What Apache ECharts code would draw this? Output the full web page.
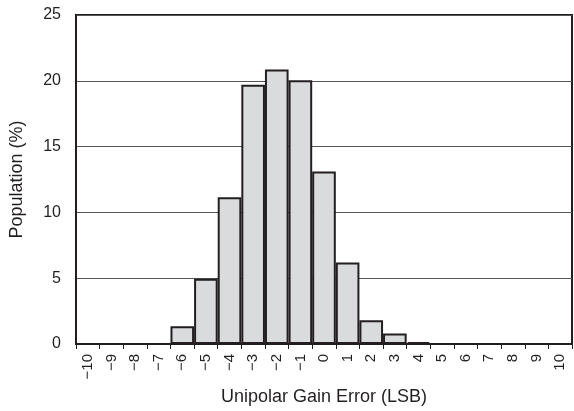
<!DOCTYPE html>
<html><head><meta charset="utf-8">
<script src="https://cdn.jsdelivr.net/npm/echarts@6/dist/echarts.min.js"></script>
<style>html,body{margin:0;padding:0;background:#fff}#c{width:574px;height:411px}</style>
</head><body><div id="c"></div>
<script>
const categories = ['\u221210','\u22129','\u22128','\u22127','\u22126','\u22125','\u22124','\u22123','\u22122','\u22121','0','1','2','3','4','5','6','7','8','9','10'];
const population = [0,0,0,0,1.35,4.95,11.15,19.7,20.85,20.05,13.1,6.2,1.8,0.8,0.15,0,0,0,0,0,0];
const yTicks = [0,5,10,15,20,25];
const ink = '#231f20';
const font = '"Liberation Sans", Arial, sans-serif';
const chart = echarts.init(document.getElementById('c'));
chart.setOption({
  animation:false,
  grid:{left:76,right:2,top:15,bottom:60,show:true,borderColor:ink,borderWidth:2,backgroundColor:'transparent'},
  xAxis:{type:'category',data:categories,boundaryGap:true,
    name:'Unipolar Gain Error (LSB)',nameLocation:'middle',nameGap:44,
    nameTextStyle:{fontFamily:font,fontSize:18,color:ink},
    axisLine:{lineStyle:{color:ink,width:2}},
    axisTick:{show:true,length:5,lineStyle:{color:ink,width:1}},
    axisLabel:{rotate:90,fontFamily:font,fontSize:15,color:ink,margin:10,interval:0}},
  yAxis:{type:'value',min:yTicks[0],max:yTicks[yTicks.length-1],interval:5,
    name:'Population (%)',nameLocation:'middle',nameGap:50,
    nameTextStyle:{fontFamily:font,fontSize:18,color:ink},
    axisLine:{show:true,lineStyle:{color:ink,width:2}},
    axisTick:{show:false},
    axisLabel:{fontFamily:font,fontSize:16,color:ink,margin:15},
    splitLine:{show:true,lineStyle:{color:'#555',width:1}}},
  series:[{type:'bar',data:population,barCategoryGap:'0%',
    itemStyle:{color:'#dadbdd',borderColor:ink,borderWidth:2}}]
});
</script></body></html>
